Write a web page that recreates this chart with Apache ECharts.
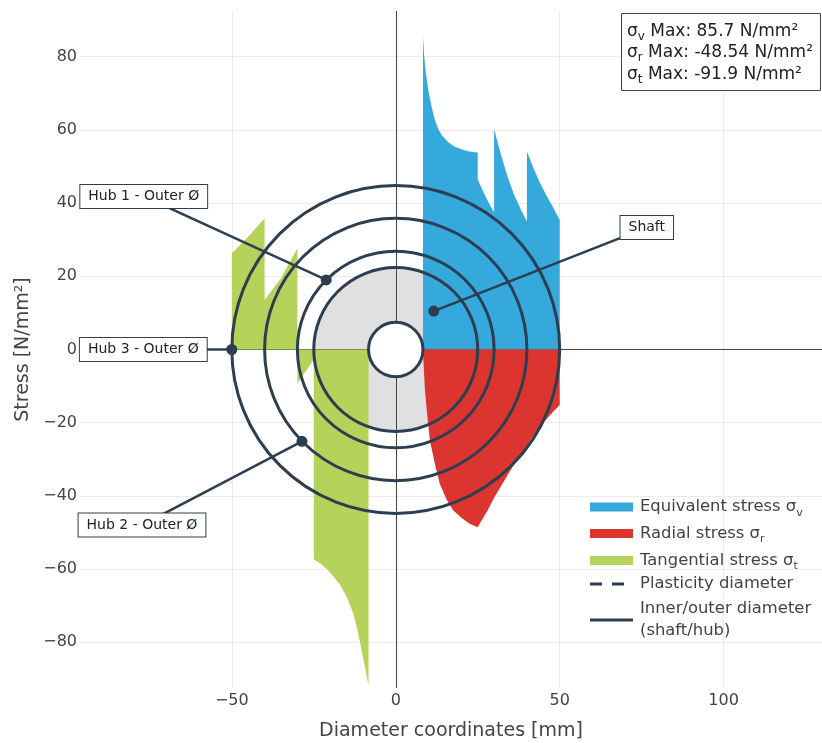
<!DOCTYPE html>
<html><head><meta charset="utf-8">
<script src="https://cdn.jsdelivr.net/npm/echarts@6/dist/echarts.min.js"></script>
<style>html,body{margin:0;padding:0;background:#fff}#c{width:822px;height:743px}</style>
</head><body><div id="c"></div>
<script>
// ---------- data ----------
// Equivalent stress sigma_v over the positive diameter coordinate (shaft 8.3..25, hubs 25..30, 30..40, 40..50)
const equivalentStress = [[8.3,0],[8.3,85.7],[8.6,81],[9,77],[9.5,73.5],[10,70.5],[11,66],[12,62.5],[13,60.2],[14,58.6],[16,56.6],[18,55.4],[20,54.7],[22,54.2],[24,53.9],[25,53.8],
  [25,46.5],[26,44.5],[27,42.5],[28,40.7],[29,39],[30,37.5],
  [30,60.2],[32,53.5],[34,47.5],[36,42.5],[38,38.5],[40,35],
  [40,54.1],[42,49.5],[44,45.5],[46,42],[48,38.8],[50,35.4],[50,0]];
// Radial stress sigma_r
const radialStress = [[8.3,0],[8.6,-6],[8.9,-11],[9.5,-17],[10.4,-24.8],[12,-31.5],[13.4,-36.6],[15.5,-41],[17.5,-43.9],[20,-46],[22.5,-47.6],[25,-48.54],
  [26,-47],[28,-44],[30,-40.5],[32,-37.5],[34,-34.5],[36,-31.5],[38,-29],[40,-26.2],[42,-23.5],[44,-21],[46,-19],[48,-17],[50,-15.2],[50,0]];
// Tangential stress sigma_t (drawn on the negative diameter side)
const tangentialStress = [[-50,0],[-50,26.3],[-45,30.8],[-40,35.9],
  [-40,13.5],[-35,19.5],[-30,27.7],
  [-30,-9.3],[-25,-2.7],
  [-25,-57.4],[-23,-58.5],[-21,-60],[-19,-62],[-17,-64.3],[-15,-67.5],[-13,-72],[-12,-75.5],[-11,-79.5],[-10,-84],[-9,-88.5],[-8.3,-91.9],[-8.3,0]];
// Diameters (radius values, mm)
const shaftInnerRadius = 8.3;
const shaftOuterRadius = 25;
const hubOuterRadii = [30, 40, 50];
// Annotations: target points and texts
const annotationPoints = [[-21.2, 19.0], [-50, 0], [-28.6, -25.1], [11.6, 10.5]];
const annotationLabels = ['Hub 1 - Outer Ø', 'Hub 3 - Outer Ø', 'Hub 2 - Outer Ø', 'Shaft'];
// Axis
const xRange = [-96.3, 130];
const yRange = [-92.5, 92.5];

// ---------- styling / layout ----------
const C_BLUE = '#35A8DC', C_RED = '#DC3530', C_GREEN = '#B5D25A', C_DARK = '#2C3E50', C_GREY = '#E0E0E0';
const FONT = '"DejaVu Sans", Verdana, sans-serif';
const labelOffsets = [[-182.5, -83.5], [-88.5, 0], [-160, 83.7], [213, -83.5]];

function extremeAbs(arr) {
  let best = 0;
  arr.forEach(p => { if (Math.abs(p[1]) > Math.abs(best)) best = p[1]; });
  return best;
}
const maxV = extremeAbs(equivalentStress), maxR = extremeAbs(radialStress), maxT = extremeAbs(tangentialStress);

const minus = v => String(v).replace('-', '\u2212');

function circleRender(fill, stroke, lw) {
  return function (params, api) {
    const c = api.coord([api.value(0), api.value(1)]);
    const e = api.coord([api.value(0) + api.value(2), api.value(1)]);
    return { type: 'circle', shape: { cx: c[0], cy: c[1], r: Math.abs(e[0] - c[0]) },
      style: { fill: fill, stroke: stroke, lineWidth: lw } };
  };
}

function areaSeries(name, data, color) {
  return { name: name, type: 'line', data: data, z: 3, showSymbol: false, symbol: 'none', silent: true,
    lineStyle: { width: 0, opacity: 0 }, areaStyle: { color: color, opacity: 1 } };
}

const richMain = (size) => ({ n: { fontSize: size, fontFamily: FONT, lineHeight: size + 6, verticalAlign: 'middle' },
  s: { fontSize: Math.round(size * 0.68), fontFamily: FONT, lineHeight: Math.round(size * 0.8), verticalAlign: 'bottom' } });

const statFont = 17;
const statLines = [
  '{n|σ}{s|v}{n| Max: ' + maxV + ' N/mm²}',
  '{n|σ}{s|r}{n| Max: ' + maxR + ' N/mm²}',
  '{n|σ}{s|t}{n| Max: ' + maxT + ' N/mm²}'
];

const legendFont = 16.4;
const legendItems = [
  { kind: 'rect', color: C_BLUE, y: 507, text: '{n|Equivalent stress σ}{s|v}' },
  { kind: 'rect', color: C_RED, y: 533.5, text: '{n|Radial stress σ}{s|r}' },
  { kind: 'rect', color: C_GREEN, y: 560.5, text: '{n|Tangential stress σ}{s|t}' },
  { kind: 'dash', color: C_DARK, y: 584, text: '{n|Plasticity diameter}' },
  { kind: 'line', color: C_DARK, y: 620, text: '{n|Inner/outer diameter}\n{n|(shaft/hub)}' }
];

const graphics = [];
// stats box
graphics.push({ type: 'rect', shape: { x: 621.5, y: 13.5, width: 199, height: 77 }, style: { fill: '#fff', stroke: '#444', lineWidth: 1 }, z: 100 });
statLines.forEach((t, i) => {
  graphics.push({ type: 'text', x: 627, y: 31.5 + i * 21.3, z: 101,
    style: { text: t, rich: richMain(statFont), fill: '#222', verticalAlign: 'middle', align: 'left' } });
});
// legend
legendItems.forEach(it => {
  if (it.kind === 'rect') {
    graphics.push({ type: 'rect', shape: { x: 590, y: it.y - 4.5, width: 43, height: 9 }, style: { fill: it.color }, z: 100 });
  } else {
    graphics.push({ type: 'line', shape: { x1: 590, y1: it.y, x2: 633, y2: it.y },
      style: { stroke: it.color, lineWidth: 3, lineDash: it.kind === 'dash' ? [12, 10] : null }, z: 100 });
  }
  graphics.push({ type: 'text', x: 640, y: it.y, z: 101,
    style: { text: it.text, rich: richMain(legendFont), fill: '#444', verticalAlign: 'middle', align: 'left' } });
});

const chart = echarts.init(document.getElementById('c'), null, { renderer: 'canvas' });
chart.setOption({
  animation: false,
  backgroundColor: '#fff',
  grid: { left: 80, right: 0, top: 11, bottom: 55, outerBoundsMode: 'none', containLabel: false },
  xAxis: {
    type: 'value', min: xRange[0], max: xRange[1], splitNumber: 5, minInterval: 50, maxInterval: 50,
    name: 'Diameter coordinates [mm]', nameLocation: 'middle', nameGap: 34,
    nameTextStyle: { fontFamily: FONT, fontSize: 19, color: '#444' },
    axisLine: { show: false }, axisTick: { show: false },
    axisLabel: { margin: 5, fontFamily: FONT, fontSize: 16, color: '#444', showMinLabel: false, showMaxLabel: false, formatter: minus },
    splitLine: { show: true, showMinLine: false, showMaxLine: false, lineStyle: { color: '#EBEBEB', width: 1 } }
  },
  yAxis: {
    type: 'value', min: yRange[0], max: yRange[1], splitNumber: 9, minInterval: 20, maxInterval: 20,
    name: 'Stress [N/mm²]', nameLocation: 'middle', nameGap: 44, nameRotate: 90,
    nameTextStyle: { fontFamily: FONT, fontSize: 19, color: '#444' },
    axisLine: { show: false }, axisTick: { show: false },
    axisLabel: { margin: 3, fontFamily: FONT, fontSize: 16, color: '#444', showMinLabel: false, showMaxLabel: false, formatter: minus },
    splitLine: { show: true, showMinLine: false, showMaxLine: false, lineStyle: { color: '#EBEBEB', width: 1 } }
  },
  graphic: { elements: graphics },
  series: [
    { name: 'shaftDisk', type: 'custom', z: 1, silent: true, clip: true, renderItem: circleRender(C_GREY, null, 0),
      encode: { x: 0, y: 1 }, data: [[0, 0, shaftOuterRadius]],
      markLine: { z: 2, silent: true, symbol: ['none', 'none'], label: { show: false },
        lineStyle: { color: '#444', width: 1, type: 'solid' }, emphasis: { disabled: true },
        data: [{ xAxis: 0 }, { yAxis: 0 }] } },
    areaSeries('Equivalent stress σv', equivalentStress, C_BLUE),
    areaSeries('Radial stress σr', radialStress, C_RED),
    areaSeries('Tangential stress σt', tangentialStress, C_GREEN),
    { name: 'Inner/outer diameter (shaft/hub)', type: 'custom', z: 4, silent: true, clip: false,
      renderItem: circleRender('none', C_DARK, 3), encode: { x: 0, y: 1 },
      data: [[0, 0, shaftOuterRadius]].concat(hubOuterRadii.map(r => [0, 0, r])) },
    { name: 'shaftBore', type: 'custom', z: 4, silent: true, clip: false,
      renderItem: circleRender('#fff', C_DARK, 3), encode: { x: 0, y: 1 }, data: [[0, 0, shaftInnerRadius]] },
    { name: 'annotations', type: 'custom', z: 5, silent: true, clip: false, encode: { x: 0, y: 1 },
      data: annotationPoints,
      renderItem: function (params, api) {
        const i = params.dataIndex;
        const p = api.coord([api.value(0), api.value(1)]);
        const bx = p[0] + labelOffsets[i][0], by = p[1] + labelOffsets[i][1];
        return { type: 'group', children: [
          { type: 'line', shape: { x1: p[0], y1: p[1], x2: bx, y2: by }, style: { stroke: C_DARK, lineWidth: 2.5 } },
          { type: 'circle', shape: { cx: p[0], cy: p[1], r: 5.5 }, style: { fill: C_DARK } },
          { type: 'text', x: bx, y: by, style: { text: annotationLabels[i], align: 'center', verticalAlign: 'middle',
              fontFamily: FONT, fontSize: 14, fill: '#222', backgroundColor: '#fff', borderColor: C_DARK, borderWidth: 1,
              padding: [5, 8, 4, 8] } }
        ] };
      } }
  ]
});
</script></body></html>
